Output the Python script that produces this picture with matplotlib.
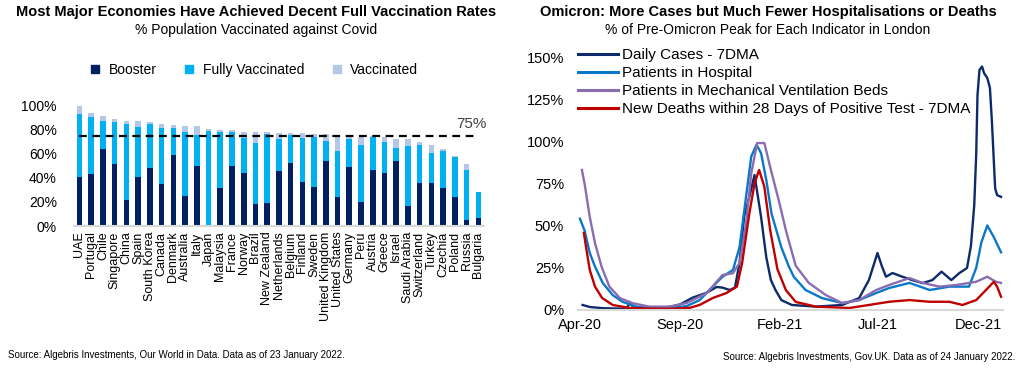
import matplotlib
matplotlib.use("Agg")
import matplotlib.pyplot as plt
import matplotlib.dates as mdates
from matplotlib.lines import Line2D
import pandas as pd

plt.rcParams["font.family"] = ["Liberation Sans", "DejaVu Sans"]

# ---- left chart data (% of population) ----
countries = ["UAE", "Portugal", "Chile", "Singapore", "China", "Spain", "South Korea",
             "Canada", "Denmark", "Australia", "Italy", "Japan", "Malaysia", "France",
             "Norway", "Brazil", "New Zealand", "Netherlands", "Belgium", "Finland",
             "Sweden", "United Kingdom", "United States", "Germany", "Peru", "Austria",
             "Greece", "Israel", "Saudi Arabia", "Switzerland", "Turkey", "Czechia",
             "Poland", "Russia", "Bulgaria"]
booster = [40.4, 42.9, 64.0, 51.5, 21.6, 40.4, 48.2, 34.9, 59.2, 24.9, 49.8, 0.8,
           31.8, 49.8, 44.3, 18.5, 19.4, 46.0, 52.3, 36.5, 32.7, 54.0, 24.1, 49.3,
           19.9, 46.5, 43.7, 54.0, 16.9, 35.7, 35.7, 31.8, 24.1, 5.3, 6.9]
fully = [93.0, 90.8, 87.5, 86.7, 85.0, 82.2, 85.0, 81.2, 81.2, 78.1, 75.9, 79.2,
         78.4, 77.8, 72.8, 69.2, 76.4, 72.0, 75.6, 73.4, 74.2, 70.6, 62.6, 72.5,
         67.3, 74.2, 69.5, 65.1, 66.4, 67.3, 60.9, 62.6, 57.0, 46.5, 28.0]
at_least_one = [99.7, 93.9, 91.4, 88.9, 87.5, 87.5, 86.7, 84.4, 83.6, 82.8, 82.8, 80.6,
                79.7, 79.7, 77.8, 77.8, 77.8, 77.5, 77.5, 77.5, 76.4, 76.4, 75.0, 74.2,
                74.2, 75.0, 74.2, 72.0, 72.0, 69.5, 67.3, 64.0, 58.4, 51.5, 28.0]
target = 75

# ---- right chart data (% of pre-Omicron peak, London) ----
cases_dates = ["2020-04-05", "2020-04-16", "2020-05-05", "2020-06-01", "2020-06-12",
               "2020-06-16", "2020-06-22", "2020-07-16", "2020-08-16", "2020-09-01",
               "2020-09-20", "2020-10-12", "2020-10-27", "2020-11-05", "2020-11-16",
               "2020-11-24", "2020-12-01", "2020-12-08", "2020-12-16", "2020-12-24",
               "2021-01-03", "2021-01-11", "2021-01-18", "2021-01-25", "2021-02-03",
               "2021-02-19", "2021-03-28", "2021-05-07", "2021-06-02", "2021-06-17",
               "2021-06-30", "2021-07-07", "2021-07-13", "2021-07-23", "2021-08-07",
               "2021-08-22", "2021-09-07", "2021-09-22", "2021-10-06", "2021-10-21",
               "2021-11-02", "2021-11-14", "2021-11-20", "2021-11-25", "2021-11-28",
               "2021-11-30", "2021-12-03", "2021-12-07", "2021-12-10", "2021-12-15",
               "2021-12-19", "2021-12-22", "2021-12-27", "2021-12-30", "2022-01-05"]
cases = [2.7, 1.5, 0.8, 0.5, 0.6, 4.5, 0.9, 0.8, 1.5, 3.0,
         7.0, 10.0, 13.4, 13.0, 11.6, 13.0, 27.6, 55.0, 67.0, 80.0,
         55.0, 31.0, 17.5, 11.6, 5.6, 2.7, 1.7, 2.7, 6.8, 17.6,
         33.6, 25.5, 19.5, 21.7, 19.5, 17.5, 15.7, 17.5, 22.5, 17.5,
         21.6, 24.7, 38.0, 62.0, 92.0, 127.6, 142.5, 144.5, 140.6, 137.7,
         131.8, 112.0, 72.0, 68.0, 67.0]

hosp_dates = ["2020-04-01", "2020-04-08", "2020-04-16", "2020-04-24", "2020-05-06",
              "2020-05-21", "2020-06-05", "2020-06-26", "2020-07-16", "2020-08-16",
              "2020-09-11", "2020-10-01", "2020-10-21", "2020-11-05", "2020-11-21",
              "2020-12-01", "2020-12-11", "2020-12-19", "2020-12-27", "2021-01-03",
              "2021-01-11", "2021-01-19", "2021-02-03", "2021-02-14", "2021-02-22",
              "2021-03-12", "2021-04-06", "2021-05-07", "2021-06-02", "2021-06-28",
              "2021-07-18", "2021-08-18", "2021-09-18", "2021-10-18", "2021-11-17",
              "2021-11-28", "2021-12-06", "2021-12-15", "2021-12-25", "2022-01-05"]
hosp = [54.0, 47.0, 33.6, 25.5, 15.7, 8.6, 4.6, 1.7, 1.0, 0.8,
        2.0, 5.6, 13.5, 19.5, 23.5, 37.0, 67.0, 91.0, 98.0, 93.0,
        77.0, 57.0, 37.0, 26.0, 19.5, 11.6, 6.8, 3.8, 5.6, 9.8,
        12.8, 15.8, 11.6, 13.6, 13.6, 24.7, 40.0, 50.0, 43.0, 34.0]

vent_dates = ["2020-04-04", "2020-04-08", "2020-04-16", "2020-04-24", "2020-05-04",
              "2020-05-16", "2020-06-01", "2020-06-20", "2020-07-16", "2020-08-16",
              "2020-09-11", "2020-10-12", "2020-11-05", "2020-11-21", "2020-12-01",
              "2020-12-11", "2020-12-19", "2020-12-28", "2021-01-08", "2021-01-18",
              "2021-01-30", "2021-02-10", "2021-02-25", "2021-03-17", "2021-04-12",
              "2021-05-07", "2021-06-02", "2021-06-28", "2021-07-18", "2021-08-18",
              "2021-09-07", "2021-10-03", "2021-10-29", "2021-11-28", "2021-12-15",
              "2021-12-28", "2022-01-05"]
vent = [83.0, 75.0, 55.0, 39.5, 25.5, 13.6, 6.8, 3.8, 1.7, 1.7,
        3.8, 9.8, 20.5, 21.6, 27.6, 51.0, 81.0, 99.0, 99.0, 83.0,
        65.0, 47.0, 26.0, 15.8, 8.6, 3.8, 5.6, 11.6, 14.6, 18.7,
        15.8, 13.6, 14.6, 16.5, 19.5, 16.5, 15.8]

death_dates = ["2020-04-07", "2020-04-11", "2020-04-16", "2020-04-24", "2020-05-05",
               "2020-05-21", "2020-06-16", "2020-07-16", "2020-08-16", "2020-09-16",
               "2020-10-01", "2020-10-21", "2020-11-11", "2020-11-27", "2020-12-05",
               "2020-12-16", "2020-12-24", "2020-12-31", "2021-01-08", "2021-01-17",
               "2021-01-28", "2021-02-10", "2021-02-25", "2021-03-28", "2021-05-18",
               "2021-06-17", "2021-07-18", "2021-08-18", "2021-09-18", "2021-10-18",
               "2021-11-07", "2021-11-28", "2021-12-13", "2021-12-25", "2021-12-30",
               "2022-01-05"]
deaths = [45.5, 35.4, 23.5, 13.6, 6.8, 2.7, 0.9, 0.5, 0.4, 1.0,
          2.7, 6.8, 9.8, 13.6, 27.6, 57.0, 75.0, 83.0, 73.0, 47.0,
          24.0, 11.5, 4.5, 1.7, 0.9, 2.7, 4.6, 5.6, 4.6, 4.6,
          2.7, 5.6, 11.6, 16.5, 13.6, 7.6]

navy = "#002060"
sky = "#00B0F0"
pale = "#B4C7E7"

fig = plt.figure(figsize=(10.24, 3.69), dpi=100)

# ================= left: vaccination bars =================
ax1 = fig.add_axes([73.6 / 1024, 1 - 226 / 369, 410.6 / 1024, 120.4 / 369])
x = range(len(countries))
fully_only = [f - b for f, b in zip(fully, booster)]
first_only = [t - f for t, f in zip(at_least_one, fully)]
ax1.bar(x, booster, width=0.48, color=navy, label="Booster")
ax1.bar(x, fully_only, width=0.48, bottom=booster, color=sky, label="Fully Vaccinated")
ax1.bar(x, first_only, width=0.48, bottom=fully, color=pale, label="Vaccinated")
ax1.plot([0, len(countries) - 1], [target, target], color="black", lw=1.6,
         linestyle=(0, (3.5, 2.5)))
ax1.text(len(countries) - 1.6, target + 4, "75%", fontsize=11, color="#404040",
         ha="center", va="bottom")
ax1.set_xlim(-0.5, len(countries) - 0.5)
ax1.set_ylim(0, 100)
ax1.set_yticks(range(0, 101, 20))
ax1.set_yticklabels([f"{v}%" for v in range(0, 101, 20)], fontsize=10)
ax1.set_xticks(list(x))
ax1.set_xticklabels(countries, rotation=90, fontsize=9)
ax1.tick_params(length=0)
ax1.tick_params(axis="y", pad=12)
ax1.tick_params(axis="x", pad=4)
for s in ["top", "right", "left"]:
    ax1.spines[s].set_visible(False)
ax1.spines["bottom"].set_color("#D9D9D9")
ax1.spines["bottom"].set_linewidth(1.5)

handles = [Line2D([], [], marker="s", ls="none", color=c, markersize=6)
           for c in [navy, sky, pale]]
fig.legend(handles, ["Booster", "Fully Vaccinated", "Vaccinated"], loc="center",
           bbox_to_anchor=(250 / 1024, 1 - 70 / 369), ncol=3, frameon=False,
           fontsize=10, handletextpad=0.0, columnspacing=1.3)

fig.text(256 / 1024, 1 - 12 / 369,
         "Most Major Economies Have Achieved Decent Full Vaccination Rates",
         ha="center", va="center", fontsize=10.5, fontweight="bold")
fig.text(256 / 1024, 1 - 30 / 369, "% Population Vaccinated against Covid",
         ha="center", va="center", fontsize=10)
fig.text(8 / 1024, 1 - 355 / 369,
         "Source: Algebris Investments, Our World in Data. Data as of 23 January 2022.",
         ha="left", va="center", fontsize=7)

# ================= right: London indicators =================
ax2 = fig.add_axes([578 / 1024, 1 - 309.5 / 369, 425 / 1024, 252.2 / 369])
ax2.plot(pd.to_datetime(cases_dates), cases, color="#0D2A6B", lw=1.7,
         label="Daily Cases - 7DMA")
ax2.plot(pd.to_datetime(hosp_dates), hosp, color="#0A78C8", lw=1.7,
         label="Patients in Hospital")
ax2.plot(pd.to_datetime(vent_dates), vent, color="#8A6DB0", lw=1.7,
         label="Patients in Mechanical Ventilation Beds")
ax2.plot(pd.to_datetime(death_dates), deaths, color="#C00000", lw=1.7,
         label="New Deaths within 28 Days of Positive Test - 7DMA")
ax2.set_xlim(pd.Timestamp("2020-03-29"), pd.Timestamp("2022-01-08"))
ax2.set_ylim(0, 150)
ax2.set_yticks(range(0, 151, 25))
ax2.set_yticklabels([f"{v}%" for v in range(0, 151, 25)], fontsize=10.5)
ticks = pd.to_datetime(["2020-04-01", "2020-09-01", "2021-02-01", "2021-07-01",
                        "2021-12-01"])
ax2.set_xticks(ticks)
ax2.xaxis.set_major_formatter(mdates.DateFormatter("%b-%y"))
ax2.tick_params(axis="x", labelsize=10.5, pad=6)
ax2.tick_params(length=0)
ax2.tick_params(axis="y", pad=10)
for s in ["top", "right", "left"]:
    ax2.spines[s].set_visible(False)
ax2.spines["bottom"].set_color("#D9D9D9")
ax2.spines["bottom"].set_linewidth(1.5)
leg = ax2.legend(loc="upper left", bbox_to_anchor=(0.0, 1.035), frameon=False,
                 fontsize=11, handlelength=2.6, handletextpad=0.3, labelspacing=0.25,
                 borderaxespad=0, borderpad=0)
for h in leg.get_lines():
    h.set_linewidth(2.2)

fig.text(768 / 1024, 1 - 12 / 369,
         "Omicron: More Cases but Much Fewer Hospitalisations or Deaths",
         ha="center", va="center", fontsize=10.5, fontweight="bold")
fig.text(768 / 1024, 1 - 30 / 369,
         "% of Pre-Omicron Peak for Each Indicator in London",
         ha="center", va="center", fontsize=10)
fig.text(1015 / 1024, 1 - 357 / 369,
         "Source: Algebris Investments, Gov.UK. Data as of 24 January 2022.",
         ha="right", va="center", fontsize=7)

fig.savefig("out.png", dpi=100)
